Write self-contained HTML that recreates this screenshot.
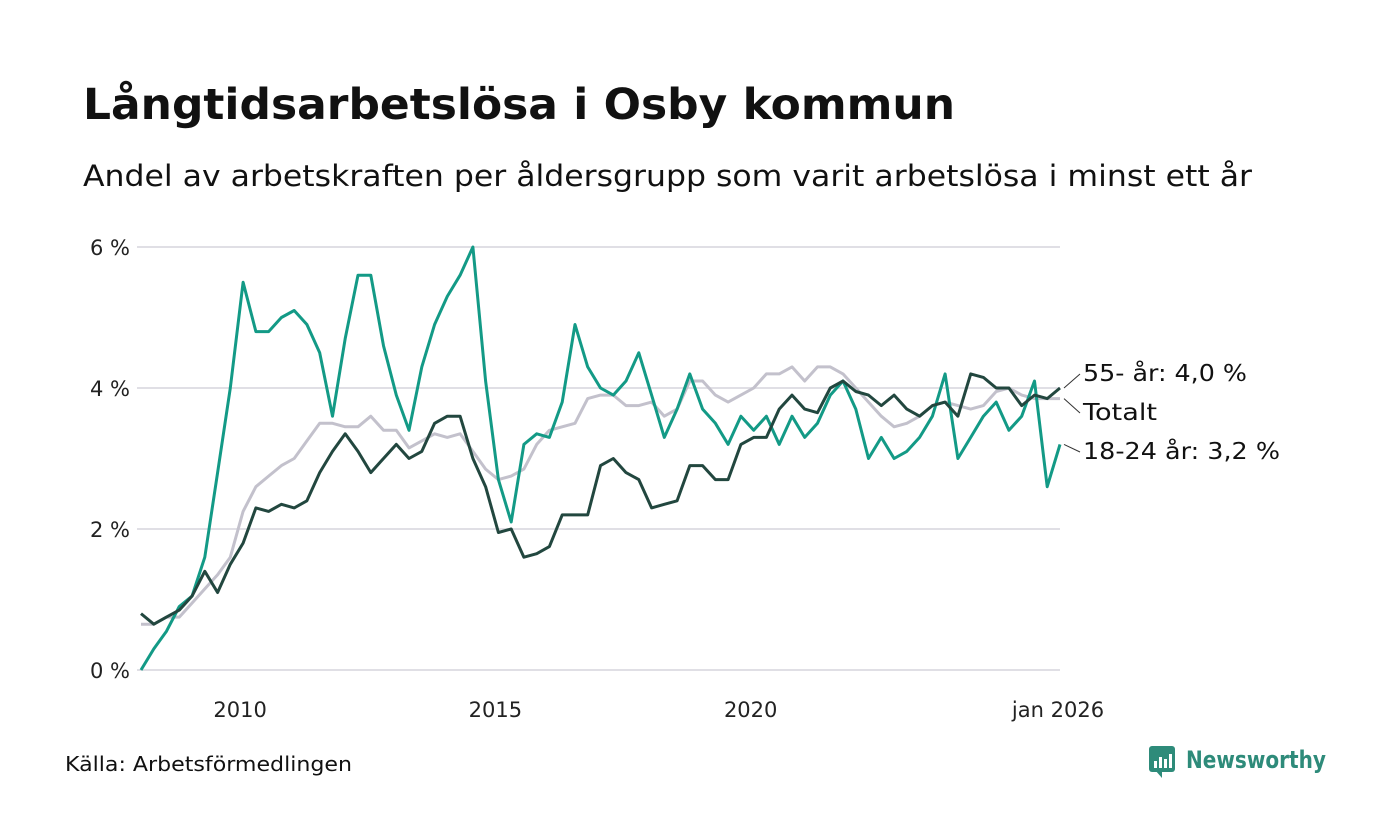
<!DOCTYPE html>
<html><head><meta charset="utf-8"><style>
body{margin:0;background:#fff;font-family:"DejaVu Sans","Liberation Sans",sans-serif;}
#wrap{position:relative;width:1400px;height:840px;overflow:hidden;}
svg text{font-family:"DejaVu Sans","Liberation Sans",sans-serif;}
</style></head><body>
<div id="wrap">
<svg id="chart" width="1400" height="840">
<text x="83" y="119" font-size="43" font-weight="bold" fill="#111" textLength="872" lengthAdjust="spacingAndGlyphs">Långtidsarbetslösa i Osby kommun</text>
<text x="83" y="186" font-size="29" fill="#111" textLength="1169" lengthAdjust="spacingAndGlyphs">Andel av arbetskraften per åldersgrupp som varit arbetslösa i minst ett år</text>
<g id="grid"></g><g id="lines"></g><g id="labels"></g>
<text x="65" y="771" font-size="20" fill="#111" textLength="287" lengthAdjust="spacingAndGlyphs">Källa: Arbetsförmedlingen</text>
<g>
<rect x="1149" y="746" width="26" height="26" rx="3" fill="#2e8b7a"/>
<path d="M1155 770 L1162 778 L1162 770Z" fill="#2e8b7a"/>
<rect x="1154" y="761" width="3" height="7" fill="#fff"/><rect x="1159" y="757" width="3" height="11" fill="#fff"/><rect x="1164" y="759" width="3" height="9" fill="#fff"/><rect x="1169" y="754" width="3" height="14" fill="#fff"/>
<text x="1186" y="768" font-size="24" font-weight="bold" fill="#2e8b7a" textLength="140" lengthAdjust="spacingAndGlyphs">Newsworthy</text>
</g>
</svg>
</div>
<script>
const years=[];for(let i=0;i<=72;i++)years.push(2008+i/4);
const youth=[0.0,0.3,0.55,0.9,1.05,1.6,2.8,4.0,5.5,4.8,4.8,5.0,5.1,4.9,4.5,3.6,4.7,5.6,5.6,4.6,3.9,3.4,4.3,4.9,5.3,5.6,6.0,4.1,2.7,2.1,3.2,3.35,3.3,3.8,4.9,4.3,4.0,3.9,4.1,4.5,3.9,3.3,3.7,4.2,3.7,3.5,3.2,3.6,3.4,3.6,3.2,3.6,3.3,3.5,3.9,4.1,3.7,3.0,3.3,3.0,3.1,3.3,3.6,4.2,3.0,3.3,3.6,3.8,3.4,3.6,4.1,2.6,3.2];
const older=[0.8,0.65,0.75,0.85,1.05,1.4,1.1,1.5,1.8,2.3,2.25,2.35,2.3,2.4,2.8,3.1,3.35,3.1,2.8,3.0,3.2,3.0,3.1,3.5,3.6,3.6,3.0,2.6,1.95,2.0,1.6,1.65,1.75,2.2,2.2,2.2,2.9,3.0,2.8,2.7,2.3,2.35,2.4,2.9,2.9,2.7,2.7,3.2,3.3,3.3,3.7,3.9,3.7,3.65,4.0,4.1,3.95,3.9,3.75,3.9,3.7,3.6,3.75,3.8,3.6,4.2,4.15,4.0,4.0,3.75,3.9,3.85,4.0];
const total=[0.65,0.65,0.75,0.75,0.95,1.15,1.35,1.6,2.25,2.6,2.75,2.9,3.0,3.25,3.5,3.5,3.45,3.45,3.6,3.4,3.4,3.15,3.25,3.35,3.3,3.35,3.1,2.85,2.7,2.75,2.85,3.2,3.4,3.45,3.5,3.85,3.9,3.9,3.75,3.75,3.8,3.6,3.7,4.1,4.1,3.9,3.8,3.9,4.0,4.2,4.2,4.3,4.1,4.3,4.3,4.2,4.0,3.8,3.6,3.45,3.5,3.6,3.75,3.8,3.75,3.7,3.75,3.95,4.0,3.9,3.85,3.85,3.85];
const yTicks=[0,2,4,6];
const xTicks=[2010,2015,2020];
const xTickLabels=["2010","2015","2020"];
const NS="http://www.w3.org/2000/svg";
const x=t=>141+(t-2008)*(1060-141)/18;
const y=v=>670-v*70.5;
function mk(tag,attrs,parent){const e=document.createElementNS(NS,tag);for(const k in attrs)e.setAttribute(k,attrs[k]);parent.appendChild(e);return e;}
const grid=document.getElementById('grid'),lines=document.getElementById('lines'),labels=document.getElementById('labels');
yTicks.forEach(v=>{
 const l=mk('line',{x1:137,x2:1060,y1:y(v),y2:y(v),stroke:'#e0dfe5','stroke-width':2},grid);
 
 
 const t=mk('text',{x:130,y:y(v)+8,'font-size':21,'text-anchor':'end',fill:'#222'},grid);
 t.textContent=v+' %';
 
 
});
xTicks.forEach((yr,i)=>{
 const t=mk('text',{x:x(yr)-3,y:717,'font-size':21,'text-anchor':'middle',fill:'#222'},grid);
 t.textContent=xTickLabels[i];
 
 
});
const tl=mk('text',{x:1058,y:717,'font-size':21,'text-anchor':'middle',fill:'#222'},grid);
tl.textContent='jan 2026';


function drawLine(arr,color,name){
 const d=arr.map((v,i)=>(i?'L':'M')+x(years[i]).toFixed(1)+' '+y(v).toFixed(1)).join(' ');
 const p=mk('path',{d:d,fill:'none',stroke:color,'stroke-width':3,'stroke-linejoin':'round'},lines);
 
 
}
drawLine(total,'#c3c1cc','line-totalt');
drawLine(youth,'#139a86','line-18-24');
drawLine(older,'#22473f','line-55-plus');
function lab(text,ly,vy,name,w){
 const l=mk('path',{d:'M1064 '+vy+' L1080 '+(ly-7),stroke:'#333','stroke-width':1,fill:'none'},labels);
 
 
 const t=mk('text',{x:1083,y:ly,'font-size':23,fill:'#111',textLength:w,lengthAdjust:'spacingAndGlyphs'},labels);
 t.textContent=text;
 
 
}
lab('55- år: 4,0 %',381,y(older[older.length-1]),'label-55-plus',164);
lab('Totalt',420,y(total[total.length-1]),'label-totalt',74);
lab('18-24 år: 3,2 %',459,y(youth[youth.length-1]),'label-18-24',197);
</script>
</body></html>
